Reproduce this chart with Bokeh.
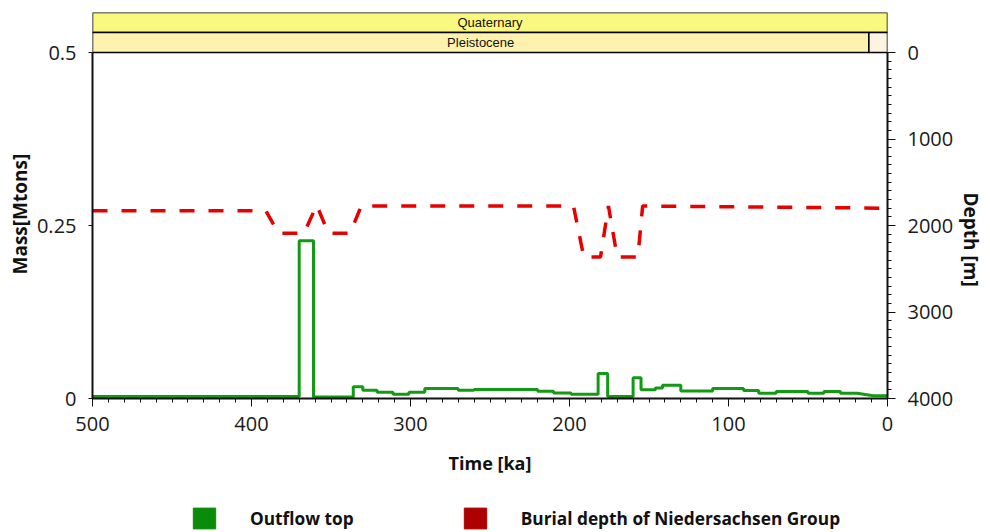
from bokeh.plotting import figure
from bokeh.models import Range1d, LinearAxis, FixedTicker, Legend, LegendItem, Title
from bokeh.layouts import column
from bokeh.core.properties import value
from bokeh.embed import file_html
from bokeh.resources import INLINE

# ---------------- data ----------------
time_ticks = [500, 400, 300, 200, 100, 0]
mass_ticks = [0, 0.25, 0.5]
mass_tick_labels = ["0", "0.25", "0.5"]
depth_ticks = [0, 1000, 2000, 3000, 4000]

# Outflow top (Mtons): step value starting at each time and held to the next
outflow_t = [500, 370, 361, 336, 330, 321, 311, 301, 291, 270, 260, 220, 210, 199,
             182, 176, 160, 155, 146, 141.5, 130, 110, 90.5, 81, 70, 50, 40, 29.6]
outflow_v = [0.003, 0.228, 0.002, 0.017, 0.012, 0.009, 0.006, 0.009, 0.0145, 0.012,
             0.013, 0.0105, 0.008, 0.006, 0.036, 0.003, 0.030, 0.0126, 0.015, 0.019,
             0.011, 0.0145, 0.0116, 0.0077, 0.010, 0.0077, 0.010, 0.0077]
outflow_tail_t = [19, 9, 0]
outflow_tail_v = [0.0077, 0.004, 0.004]

# Burial depth of Niedersachsen Group (m)
burial_t = [500, 391, 383, 367, 359, 351.6, 338, 331, 197.5, 191, 180.5, 175.5, 170, 157, 154, 0]
burial_d = [1830, 1830, 2090, 2090, 1765, 2090, 2090, 1775, 1775, 2365, 2365, 1775, 2365, 2365, 1775, 1800]

# Stratigraphic banner
period_names = ["Quaternary", "Pleistocene", "Holocene"]
period_start = [500, 500, 11.7]
period_end = [0, 11.7, 0]
period_row = [1, 0, 0]
period_labels = ["Quaternary", "Pleistocene", ""]

# ---------------- styles / layout ----------------
GREEN = "#139a13"
RED = "#e60000"
LEG_GREEN = "#0a8c0a"
LEG_RED = "#ad0000"
period_colors = ["#f9f97f", "#fff2ae", "#fef2e0"]
TICK_FONT = "Open Sans"
LABEL_FONT = "Open Sans"

LEFT, RIGHT = 92, 103
PLOT_PX = 346          # height of the data area in pixels
BANNER_ROW_PX = 20     # height of one banner row
FRAME_PX = PLOT_PX + 2 * BANNER_ROW_PX
MASS_MAX = 0.5
DEPTH_MAX = 4000
mass_top = MASS_MAX * FRAME_PX / PLOT_PX
depth_top = DEPTH_MAX - DEPTH_MAX * FRAME_PX / PLOT_PX
banner_bottom = 2 - FRAME_PX / BANNER_ROW_PX

p = figure(width=990, height=12 + FRAME_PX + 95,
           x_range=Range1d(500, 0), y_range=Range1d(0, mass_top),
           toolbar_location=None, output_backend="svg",
           min_border_left=LEFT, min_border_right=RIGHT, min_border_top=12, min_border_bottom=95)
p.grid.visible = False
p.outline_line_color = None
p.extra_y_ranges = {"depth": Range1d(DEPTH_MAX, depth_top),
                    "banner": Range1d(banner_bottom, 2)}

# banner
p.quad(left=period_start, right=period_end,
       bottom=period_row, top=[r + 1 for r in period_row], y_range_name="banner",
       fill_color=period_colors, line_color="black", line_width=1.5)
p.text(x=[(a + b) / 2 for a, b in zip(period_start, period_end)],
       y=[r + 0.5 for r in period_row], text=period_labels, y_range_name="banner",
       text_align="center", text_baseline="middle",
       text_font=value("Liberation Sans"), text_font_size="13px", text_color="#111111")

# step vertices for outflow
ox, oy = [], []
ends = outflow_t[1:] + [outflow_tail_t[0]]
for t0, t1, v in zip(outflow_t, ends, outflow_v):
    ox += [t0, t1]
    oy += [v, v]
ox += outflow_tail_t
oy += outflow_tail_v
p.line(ox, oy, line_color=GREEN, line_width=3)

p.line(burial_t, burial_d, y_range_name="depth", line_color=RED, line_width=3.5,
       line_dash="15 14")

# x axis
xa = p.xaxis[0]
xa.ticker = FixedTicker(ticks=time_ticks, minor_ticks=list(range(0, 501, 10)))
xa.axis_label = "Time [ka]"
# y axis (mass)
ya = p.yaxis[0]
ya.ticker = FixedTicker(ticks=mass_ticks, minor_ticks=[])
ya.major_label_overrides = {t: l for t, l in zip(mass_ticks, mass_tick_labels)}
ya.bounds = (0, MASS_MAX)
# right axis (depth)
ra = LinearAxis(y_range_name="depth",
                ticker=FixedTicker(ticks=depth_ticks, minor_ticks=list(range(0, 4001, 100))),
                bounds=(0, DEPTH_MAX))
p.add_layout(ra, "right")

for ax in (xa, ya, ra):
    ax.axis_line_color = "#111111"
    ax.axis_line_width = 2
    ax.major_tick_line_color = "#111111"
    ax.minor_tick_line_color = "#111111"
    ax.major_tick_in = 0
    ax.minor_tick_in = 0
    ax.major_label_text_font = TICK_FONT
    ax.major_label_text_font_size = "20px"
    ax.major_label_text_color = "#1a1a1a"
    ax.axis_label_text_font = LABEL_FONT
    ax.axis_label_text_font_style = "bold"
    ax.axis_label_text_font_size = "18px"
    ax.axis_label_text_color = "#111111"

xa.major_tick_out = 8
xa.minor_tick_out = 4
xa.major_label_standoff = 10
xa.axis_label_standoff = 17
ya.major_tick_out = 4
ya.minor_tick_out = 0
ya.major_label_standoff = 12
ra.major_tick_out = 8
ra.minor_tick_out = 4
ra.major_label_standoff = 12

# vertical axis titles as side-panel titles (offset shifts them along the side)
title_kw = dict(align="left", text_font=LABEL_FONT, text_font_style="bold",
                text_font_size="19px", text_color="#111111", standoff=2)
p.add_layout(Title(text="Mass[Mtons]", offset=124, **title_kw), "left")
p.add_layout(Title(text="Depth [m]", offset=180, **title_kw), "right")

# ---------------- legend figure ----------------
leg = figure(width=990, height=39, x_range=Range1d(0, 1), y_range=Range1d(0, 1),
             toolbar_location=None, output_backend="svg",
             x_axis_location=None, y_axis_location=None,
             min_border_left=LEFT, min_border_right=RIGHT, min_border_top=0, min_border_bottom=0)
leg.grid.visible = False
leg.outline_line_color = None
nan = float("nan")
r1 = leg.quad(left=[nan], right=[nan], top=[nan], bottom=[nan], fill_color=LEG_GREEN, line_color=LEG_GREEN)
r2 = leg.quad(left=[nan], right=[nan], top=[nan], bottom=[nan], fill_color=LEG_RED, line_color=LEG_RED)
legend = Legend(items=[LegendItem(label="Outflow top", renderers=[r1]),
                       LegendItem(label="Burial depth of Niedersachsen Group", renderers=[r2])],
                orientation="horizontal", location=(190 - LEFT, 1),
                glyph_width=28, glyph_height=26, label_standoff=32, spacing=107,
                padding=0, margin=0, border_line_color=None, background_fill_alpha=0,
                label_text_font=LABEL_FONT, label_text_font_style="bold",
                label_text_font_size="17.3px", label_text_color="#111111")
leg.add_layout(legend, "center")

layout = column(p, leg)
open("out.html", "w").write(file_html(layout, INLINE))
